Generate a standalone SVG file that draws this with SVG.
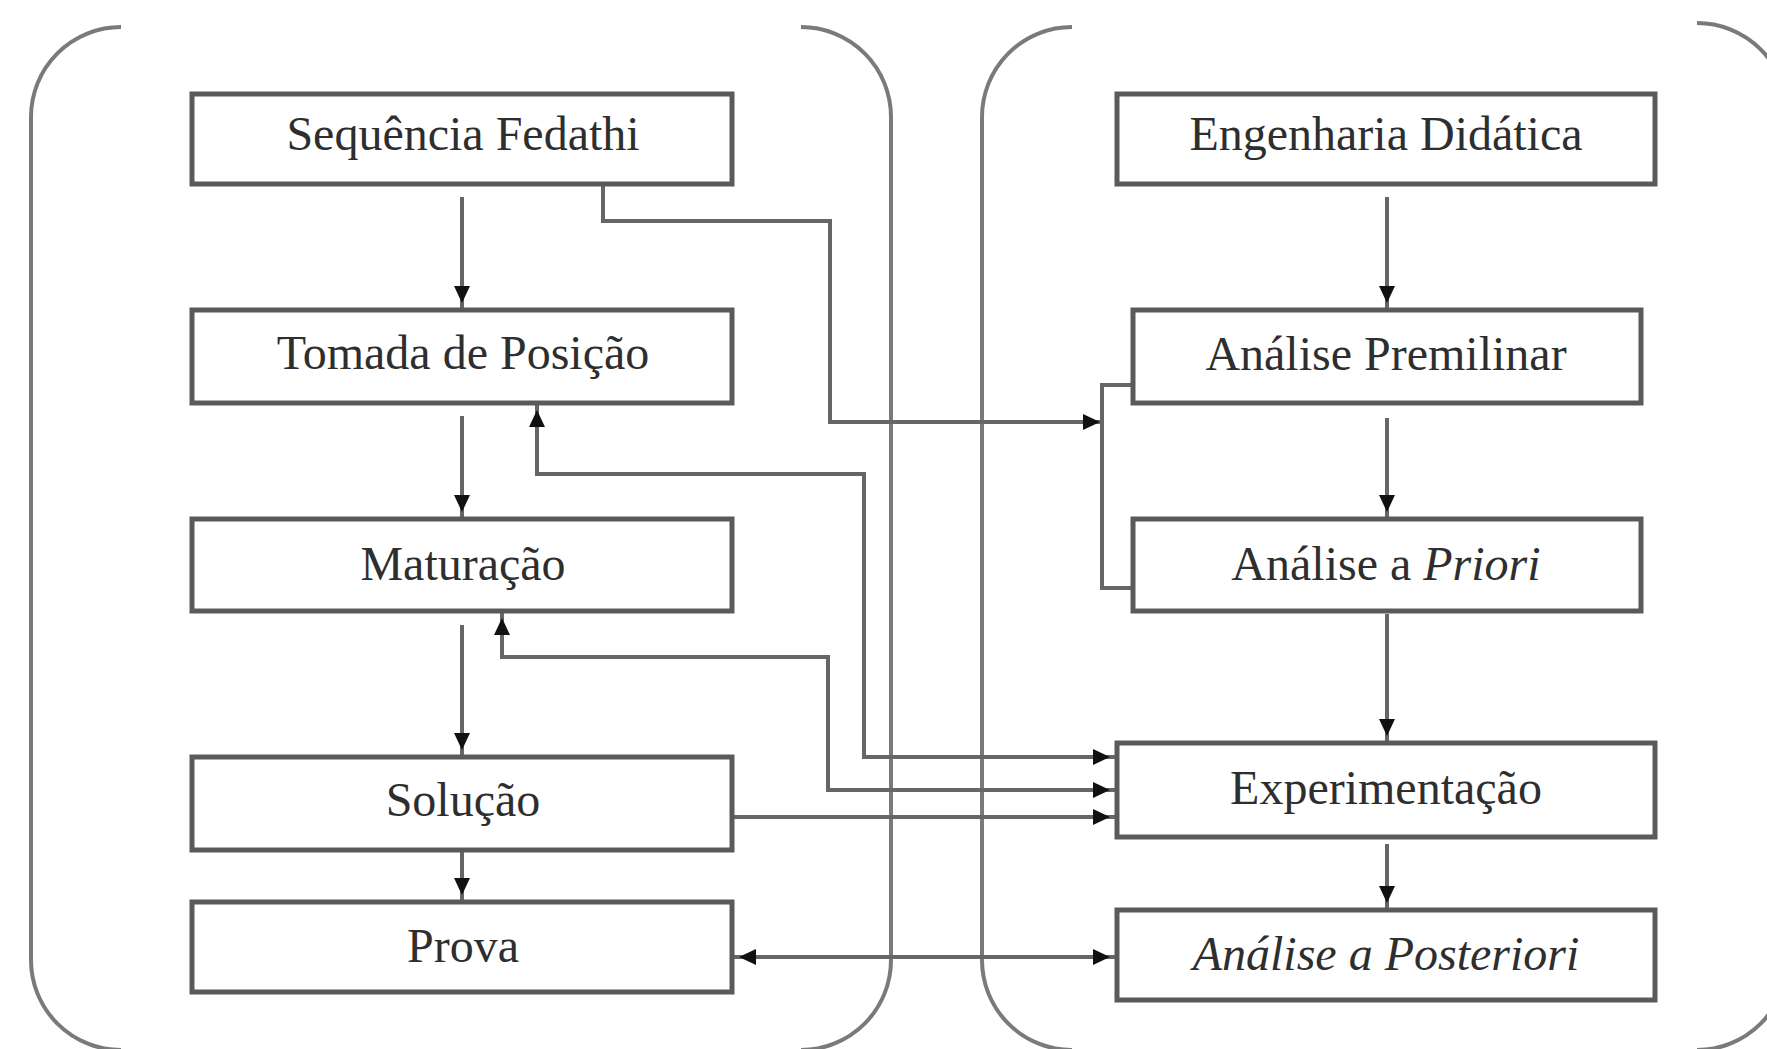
<svg xmlns="http://www.w3.org/2000/svg" width="1767" height="1049" viewBox="0 0 1767 1049">
  <style>
    .panel { fill: none; stroke: #7a7a7a; stroke-width: 4; }
    .box { fill: #ffffff; stroke: #5a5a5a; stroke-width: 5; }
    .lbl { font-family: "Liberation Serif", "Times New Roman", serif; font-size: 48px; fill: #2e2e2e; text-anchor: middle; }
    .it { font-style: italic; }
    .con { fill: none; stroke: #666666; stroke-width: 4; }
  </style>
  <defs>
    <marker id="arr" markerUnits="userSpaceOnUse" markerWidth="30" markerHeight="18" refX="24" refY="8" orient="auto-start-reverse">
      <path d="M0,0 L17,8 L0,16 Z" fill="#111111"/>
    </marker>
    <marker id="arr0" markerUnits="userSpaceOnUse" markerWidth="30" markerHeight="18" refX="17" refY="8" orient="auto">
      <path d="M0,0 L17,8 L0,16 Z" fill="#111111"/>
    </marker>
  </defs>
  <rect width="1767" height="1049" fill="#ffffff"/>

  <g id="panels">
    <path class="panel" d="M121,1050 A90,90 0 0 1 31,960 V117 A90,90 0 0 1 121,27"/>
    <path class="panel" d="M801,27 A90,90 0 0 1 891,117 V960 A90,90 0 0 1 801,1050"/>
    <path class="panel" d="M1072,27 A90,90 0 0 0 982,117 V960 A90,90 0 0 0 1072,1050"/>
    <path class="panel" d="M1697,23 A90,90 0 0 1 1787,113 V960 A90,90 0 0 1 1697,1050"/>
  </g>

  <g id="connectors">
    <path class="con" d="M462,197 V310" marker-end="url(#arr)"/>
    <path class="con" d="M462,416 V519" marker-end="url(#arr)"/>
    <path class="con" d="M462,625 V757" marker-end="url(#arr)"/>
    <path class="con" d="M462,852 V902" marker-end="url(#arr)"/>
    <path class="con" d="M1387,197 V310" marker-end="url(#arr)"/>
    <path class="con" d="M1387,418 V519" marker-end="url(#arr)"/>
    <path class="con" d="M1387,614 V743" marker-end="url(#arr)"/>
    <path class="con" d="M1387,844 V910" marker-end="url(#arr)"/>
    <path class="con" d="M603,184 V221 H830 V422 H1100" marker-end="url(#arr0)"/>
    <path class="con" d="M1133,385 H1102 V588 H1133"/>
    <path class="con" d="M537,403 V474 H864 V757 H1117" marker-start="url(#arr)" marker-end="url(#arr)"/>
    <path class="con" d="M502,611 V657 H828 V790 H1117" marker-start="url(#arr)" marker-end="url(#arr)"/>
    <path class="con" d="M732,817 H1117" marker-end="url(#arr)"/>
    <path class="con" d="M732,957 H1117" marker-start="url(#arr)" marker-end="url(#arr)"/>
  </g>

  <g id="seq-fedathi">
    <rect class="box" x="192" y="94" width="540" height="90"/>
    <text class="lbl" x="463" y="150">Sequência Fedathi</text>
  </g>
  <g id="tomada-posicao">
    <rect class="box" x="192" y="310" width="540" height="93"/>
    <text class="lbl" x="463" y="369">Tomada de Posição</text>
  </g>
  <g id="maturacao">
    <rect class="box" x="192" y="519" width="540" height="92"/>
    <text class="lbl" x="463" y="580">Maturação</text>
  </g>
  <g id="solucao">
    <rect class="box" x="192" y="757" width="540" height="93"/>
    <text class="lbl" x="463" y="816">Solução</text>
  </g>
  <g id="prova">
    <rect class="box" x="192" y="902" width="540" height="90"/>
    <text class="lbl" x="463" y="962">Prova</text>
  </g>

  <g id="engenharia-didatica">
    <rect class="box" x="1117" y="94" width="538" height="90"/>
    <text class="lbl" x="1386" y="150">Engenharia Didática</text>
  </g>
  <g id="analise-premilinar">
    <rect class="box" x="1133" y="310" width="508" height="93"/>
    <text class="lbl" x="1386" y="370">Análise Premilinar</text>
  </g>
  <g id="analise-priori">
    <rect class="box" x="1133" y="519" width="508" height="92"/>
    <text class="lbl" x="1386" y="580">Análise a <tspan class="it">Priori</tspan></text>
  </g>
  <g id="experimentacao">
    <rect class="box" x="1117" y="743" width="538" height="94"/>
    <text class="lbl" x="1386" y="804">Experimentação</text>
  </g>
  <g id="analise-posteriori">
    <rect class="box" x="1117" y="910" width="538" height="90"/>
    <text class="lbl it" x="1386" y="970">Análise a Posteriori</text>
  </g>
</svg>
